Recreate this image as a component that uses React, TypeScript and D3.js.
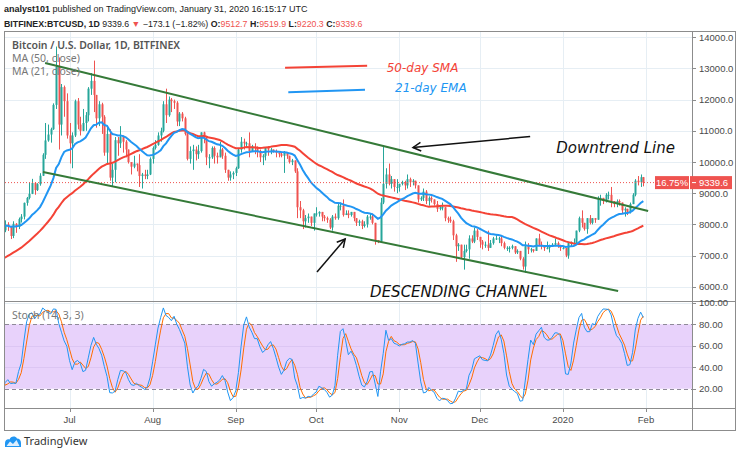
import React, { useEffect } from "react";
import * as d3 from "d3";

const DAY = 86400000;
const START_DATE = Date.UTC(2019, 4, 18);
const JUL1 = Date.UTC(2019, 6, 1);

// closes Apr 18 – May 17 2019 (warm-up for the moving averages)
const warmupCloses = [5290, 5280, 5330, 5290, 5380, 5530, 5430, 5190, 5280, 5270, 5250, 5200, 5340,
  5390, 5510, 5760, 5840, 5770, 5730, 5860, 5970, 6170, 6380, 7230, 6990, 7820, 7990, 8190, 7880, 7360];

// daily OHLC from May 18 2019 to Jan 31 2020
const opens = [
  7360, 7260, 8170, 7960, 7950, 7630, 7890, 7990, 8070, 8740, 8810, 8720, 8660, 8280,
  8560, 8550, 8740, 8120, 7680, 7800, 7810, 8000, 7930, 7630, 8020, 7920, 8170, 8250, 8690, 8850, 8980, 9330, 9100, 9290, 9560, 10230, 10690, 10880, 11050, 11830, 13050, 11200, 12400, 11950,
  10850, 10600, 10850, 11950, 11200, 11000, 11250, 11500, 12350, 12600, 12150, 11400, 11850, 11450, 10300, 10900, 9500, 9750, 10700, 10600, 10800, 10650, 10400, 10000, 9850, 9950, 9900, 9550, 9600, 9550, 9600,
  10100, 10450, 10550, 10850, 11000, 11850, 11500, 12000, 11950, 11900, 11300, 11550, 11400, 10900, 10100, 10350, 10400, 10250, 10350, 10950, 10800, 10150, 10150, 10450, 10200, 10150, 10400, 10200, 9750, 9500, 9600,
  9650, 9800, 10400, 10650, 10600, 10600, 10350, 10500, 10450, 10350, 10150, 10200, 10450, 10400, 10400, 10350, 10300, 10250, 10200, 10300, 10200, 10000, 10050, 9700, 8550, 8450, 8100, 8200, 8250, 8050,
  8350, 8350, 8400, 8250, 8200, 8150, 7900, 8250, 8200, 8600, 8600, 8300, 8350, 8300, 8400, 8200, 8050, 8100, 7950, 8000, 8250, 8250, 8050, 7500, 7450, 8700, 9300, 9600, 9300, 9450, 9200,
  9200, 9300, 9350, 9250, 9450, 9350, 9400, 9250, 8800, 8850, 9050, 8750, 8850, 8800, 8650, 8500, 8550, 8550, 8200, 8150, 8100, 7650, 7300, 7350, 6950, 7150, 7200, 7550, 7450, 7800,
  7600, 7450, 7350, 7350, 7250, 7400, 7550, 7550, 7550, 7400, 7250, 7250, 7250, 7300, 7100, 7150, 6900, 6650, 7300, 7200, 7200, 7150, 7550, 7350, 7300, 7250, 7250, 7300, 7350, 7400, 7300,
  7250, 7250, 7000, 7400, 7400, 7400, 7800, 8200, 8050, 7850, 8200, 8050, 8200, 8150, 8850, 8850, 8750, 8950, 8950, 8750, 8650, 8750, 8700, 8450, 8500, 8400, 8650, 8950, 9400, 9350, 9512.7,
];
const highs = [
  7450, 8260, 8170, 8100, 8040, 7950, 8150, 8150, 8800, 8930, 8820, 8730, 9080, 8600,
  8630, 8820, 8750, 8120, 7930, 7880, 8130, 8070, 7950, 8100, 8040, 8220, 8330, 8700, 8880, 9350, 9460, 9350, 9320, 9640, 10280, 11250, 11200, 11100, 11880, 13700, 13350, 12500, 12450, 12200,
  11250, 10950, 12000, 12050, 11450, 11700, 11600, 12400, 12850, 13250, 12150, 11950, 11900, 11500, 11100, 11050, 9950, 10800, 10800, 11150, 10850, 10700, 10400, 10000, 10200, 9950, 10250, 9650, 9750, 9750, 10150,
  10500, 10700, 10950, 11100, 11950, 12350, 12100, 12050, 12000, 11950, 11600, 11600, 11450, 10950, 10500, 10550, 10500, 10550, 10950, 10970, 10800, 10250, 10500, 10500, 10300, 10650, 10450, 10300, 9750, 9700, 9700,
  9850, 10450, 10800, 10750, 10650, 10950, 10550, 10600, 10500, 10400, 10250, 10450, 10500, 10450, 10400, 10400, 10300, 10300, 10350, 10300, 10200, 10100, 10050, 9800, 8750, 8500, 8300, 8350, 8250, 8350,
  8550, 8420, 8400, 8300, 8250, 8200, 8300, 8350, 8700, 8700, 8800, 8450, 8450, 8400, 8400, 8200, 8150, 8150, 8100, 8300, 8350, 8350, 8050, 7500, 8850, 10500, 9800, 9950, 9550, 9450, 9450,
  9300, 9400, 9400, 9600, 9500, 9450, 9400, 9250, 8900, 9150, 9100, 8900, 8900, 8800, 8750, 8600, 8700, 8550, 8250, 8250, 8150, 7700, 7400, 7350, 7350, 7350, 7650, 7650, 7900, 7850,
  7600, 7500, 7450, 7800, 7500, 7600, 7650, 7600, 7650, 7450, 7300, 7300, 7350, 7300, 7200, 7150, 6950, 7450, 7400, 7250, 7200, 7550, 7700, 7450, 7300, 7450, 7350, 7400, 7550, 7450, 7350,
  7300, 7250, 7450, 7450, 7550, 7800, 8250, 8450, 8050, 8200, 8300, 8200, 8200, 8900, 8950, 8850, 9000, 9050, 9200, 8750, 8800, 8800, 8700, 8550, 8500, 8700, 9000, 9450, 9550, 9600, 9519.9,
];
const lows = [
  7150, 7250, 7590, 7800, 7540, 7500, 7820, 7940, 8000, 8650, 8550, 8450, 8040, 8040,
  8460, 8540, 8060, 7450, 7600, 7540, 7750, 7790, 7530, 7560, 7730, 7850, 8060, 8160, 8600, 8800, 8970, 8950, 9070, 9240, 9550, 10100, 10650, 10620, 11030, 11700, 10400, 10850, 11450, 10750,
  9950, 9800, 10800, 11050, 10850, 10990, 11000, 11300, 12150, 11600, 11100, 11150, 10900, 10200, 9950, 9400, 9200, 9350, 10200, 10450, 10300, 10150, 9950, 9600, 9800, 9700, 9200, 9150, 9450, 9450, 9580,
  9950, 10400, 10520, 10650, 10950, 11250, 11450, 11600, 11700, 11150, 11150, 11300, 10850, 10050, 9950, 9750, 10050, 10100, 10300, 10600, 9900, 9800, 10100, 9950, 9950, 10150, 10100, 9650, 9400, 9400, 9450,
  9550, 9780, 10300, 10400, 10450, 10150, 10350, 10250, 10150, 10000, 9900, 10050, 10200, 10250, 10300, 10150, 10150, 10150, 9650, 10100, 9950, 9900, 9650, 8200, 8200, 7850, 7900, 8050, 7950, 7800,
  8250, 8250, 8100, 8100, 8050, 7850, 7800, 8150, 8150, 8450, 8250, 8300, 8200, 8250, 8100, 7950, 7950, 7850, 7900, 7900, 8150, 8000, 7350, 7400, 7450, 8650, 9150, 9250, 9150, 9050, 9000,
  9050, 9250, 9100, 9150, 9200, 9250, 9150, 8700, 8750, 8750, 8650, 8600, 8700, 8600, 8400, 8450, 8450, 8100, 8050, 8050, 7500, 6800, 7150, 6900, 6550, 7100, 6900, 7400, 7400, 7500,
  7250, 7200, 7250, 7150, 7250, 7350, 7500, 7400, 7300, 7200, 7150, 7100, 7200, 7050, 7050, 6850, 6550, 6450, 7050, 7100, 7100, 7150, 7300, 7200, 7150, 7200, 7100, 7300, 7300, 7250, 7150,
  7200, 6950, 6900, 7300, 7350, 7400, 7750, 7900, 7800, 7700, 8000, 8000, 8050, 8150, 8600, 8650, 8700, 8800, 8550, 8550, 8550, 8600, 8350, 8250, 8300, 8350, 8650, 8900, 9250, 9200, 9220.3,
];
const closes = [
  7260, 8170, 7960, 7950, 7630, 7890, 7990, 8070, 8740, 8810, 8720, 8660, 8280, 8560,
  8550, 8740, 8120, 7680, 7800, 7810, 8000, 7930, 7630, 8020, 7920, 8170, 8250, 8690, 8850, 8980, 9330, 9100, 9290, 9560, 10230, 10690, 10880, 11050, 11830, 13050, 11200, 12400, 11950, 10850,
  10600, 10850, 11950, 11200, 11000, 11250, 11500, 12350, 12600, 12150, 11400, 11850, 11450, 10300, 10900, 9500, 9750, 10700, 10600, 10800, 10650, 10400, 10000, 9850, 9950, 9900, 9550, 9600, 9550, 9600, 10100,
  10450, 10550, 10850, 11000, 11850, 11500, 12000, 11950, 11900, 11300, 11550, 11400, 10900, 10100, 10350, 10400, 10250, 10350, 10950, 10800, 10150, 10150, 10450, 10200, 10150, 10400, 10200, 9750, 9500, 9600, 9650,
  9800, 10400, 10650, 10600, 10600, 10350, 10500, 10450, 10350, 10150, 10200, 10450, 10400, 10400, 10350, 10300, 10250, 10200, 10300, 10200, 10000, 10050, 9700, 8550, 8450, 8100, 8200, 8250, 8050, 8350,
  8350, 8400, 8250, 8200, 8150, 7900, 8250, 8200, 8600, 8600, 8300, 8350, 8300, 8400, 8200, 8050, 8100, 7950, 8000, 8250, 8250, 8050, 7500, 7450, 8700, 9300, 9600, 9300, 9450, 9200, 9200,
  9300, 9350, 9250, 9450, 9350, 9400, 9250, 8800, 8850, 9050, 8750, 8850, 8800, 8650, 8500, 8550, 8550, 8200, 8150, 8100, 7650, 7300, 7350, 6950, 7150, 7200, 7550, 7450, 7800, 7600,
  7450, 7350, 7350, 7250, 7400, 7550, 7550, 7550, 7400, 7250, 7250, 7250, 7300, 7100, 7150, 6900, 6650, 7300, 7200, 7200, 7150, 7550, 7350, 7300, 7250, 7250, 7300, 7350, 7400, 7300, 7250,
  7250, 7000, 7400, 7400, 7400, 7800, 8200, 8050, 7850, 8200, 8050, 8200, 8150, 8850, 8850, 8750, 8950, 8950, 8750, 8650, 8750, 8700, 8450, 8500, 8400, 8650, 8950, 9400, 9350, 9512.7, 9339.6,
];

const priceTicks = [6000, 7000, 8000, 9000, 10000, 11000, 12000, 13000, 14000];
const stochTicks = [20, 40, 60, 80, 100];
const monthTickDates = [
  Date.UTC(2019, 6, 1), Date.UTC(2019, 7, 1), Date.UTC(2019, 8, 1), Date.UTC(2019, 9, 1),
  Date.UTC(2019, 10, 1), Date.UTC(2019, 11, 1), Date.UTC(2020, 0, 1), Date.UTC(2020, 1, 1),
];
const monthTickLabels = ["Jul", "Aug", "Sep", "Oct", "Nov", "Dec", "2020", "Feb"];

// drawn annotations: [days after Jul 1 2019, price]
const channelUpper = [[-9.1, 13170], [215.8, 8430]];
const channelLower = [[-9.9, 9680], [204.6, 5865]];
const arrowTop = [[171.8, 10817], [128.1, 10465]];
const arrowBottom = [[92.3, 6474], [102.8, 7532]];
const smaKeyLine = [[80.4, 13022], [111.0, 13087]];
const emaKeyLine = [[81.6, 12234], [110.2, 12317]];

const LEFT = 5, RIGHT = 692;
const MAIN_TOP = 31, MAIN_BOTTOM = 301;
const STOCH_TOP = 301, STOCH_BOTTOM = 408;
const AXIS_BOTTOM = 430;

const UP = "#26a69a", DOWN = "#ef5350";
const GRID = "#e6eef4";
const FRAME = "#8c8c8c";

function sma(arr: (number | null)[], n: number) {
  return arr.map((_, i) => {
    if (i < n - 1) return null;
    const s = arr.slice(i - n + 1, i + 1);
    if (s.some((v) => v == null)) return null;
    return d3.mean(s as number[]) as number;
  });
}
function ema(arr: number[], n: number) {
  const k = 2 / (n + 1);
  const out: (number | null)[] = [];
  let prev = 0;
  arr.forEach((v, i) => {
    if (i < n - 1) out.push(null);
    else if (i === n - 1) { prev = d3.mean(arr.slice(0, n)) as number; out.push(prev); }
    else { prev = v * k + prev * (1 - k); out.push(prev); }
  });
  return out;
}

export default function App() {
  useEffect(() => { document.body.style.margin = "0"; }, []);

  const x = d3.scaleUtc().domain([new Date(JUL1), new Date(Date.UTC(2020, 1, 1))]).range([69.5, 646]);
  const y = d3.scaleLinear().domain([6000, 14000]).range([286.8, 37.2]);
  const ys = d3.scaleLinear().domain([20, 80]).range([388.7, 324.3]);

  const dates = closes.map((_, i) => new Date(START_DATE + i * DAY));
  const all = warmupCloses.concat(closes);
  const sma50 = sma(all, 50).slice(warmupCloses.length);
  const ema21 = ema(all, 21).slice(warmupCloses.length);

  const rawK = closes.map((c, i) => {
    if (i < 13) return null;
    const hh = d3.max(highs.slice(i - 13, i + 1)) as number;
    const ll = d3.min(lows.slice(i - 13, i + 1)) as number;
    return (100 * (c - ll)) / (hh - ll);
  });
  const kLine = sma(rawK, 3);
  const dLine = sma(kLine, 3);

  const px = (p: number[]) => x(new Date(JUL1 + p[0] * DAY));
  const py = (p: number[]) => y(p[1]);

  const mainLine = d3.line<number | null>()
    .defined((d) => d != null)
    .x((_, i) => x(dates[i]))
    .y((d) => y(d as number));
  const stochLine = d3.line<number | null>()
    .defined((d) => d != null)
    .x((_, i) => x(dates[i]))
    .y((d) => ys(d as number));

  const last = closes[closes.length - 1];
  const lastY = y(last);

  const arrowHead = (seg: number[][]) => {
    const x1 = px(seg[0]), y1 = py(seg[0]), x2 = px(seg[1]), y2 = py(seg[1]);
    const a = Math.atan2(y1 - y2, x1 - x2);
    const L = 9, s = 0.5;
    return `M${x2 + L * Math.cos(a + s)},${y2 + L * Math.sin(a + s)}L${x2},${y2}L${x2 + L * Math.cos(a - s)},${y2 + L * Math.sin(a - s)}`;
  };

  const uiFont = "'Noto Sans', 'Open Sans', sans-serif";
  const headFont = "'Liberation Sans', Arial, sans-serif";
  const axisFont = "'Liberation Sans', Arial, sans-serif";
  const noteFont = "'DejaVu Sans', Verdana, sans-serif";

  return (
    <svg width={740} height={456} style={{ position: "absolute", left: 0, top: 0, background: "#fff" }}>
      <defs>
        <clipPath id="mainClip"><rect x={LEFT} y={MAIN_TOP} width={RIGHT - LEFT} height={MAIN_BOTTOM - MAIN_TOP} /></clipPath>
        <clipPath id="stochClip"><rect x={LEFT} y={STOCH_TOP} width={RIGHT - LEFT} height={STOCH_BOTTOM - STOCH_TOP} /></clipPath>
      </defs>
      <rect x={0} y={0} width={740} height={456} fill="#fff" />

      {/* header */}
      <text x={4} y={12} fontFamily={headFont} fontSize={9} fill="#222">
        <tspan fontWeight="bold">analyst101</tspan>
        <tspan>{" published on TradingView.com, January 31, 2020 16:15:17 UTC"}</tspan>
      </text>
      <text x={4} y={27} fontFamily={headFont} fontSize={8.8} fill="#222">
        <tspan fontWeight="bold">BITFINEX:BTCUSD, 1D</tspan>
        <tspan>{" 9339.6 "}</tspan>
        <tspan fill={DOWN}>▼</tspan>
        <tspan>{" −173.1 (−1.82%) "}</tspan>
        <tspan fontWeight="bold">O:</tspan>
        <tspan fill={DOWN}>{"9512.7 "}</tspan>
        <tspan fontWeight="bold">H:</tspan>
        <tspan fill={DOWN}>{"9519.9 "}</tspan>
        <tspan fontWeight="bold">L:</tspan>
        <tspan fill={DOWN}>{"9220.3 "}</tspan>
        <tspan fontWeight="bold">C:</tspan>
        <tspan fill={DOWN}>9339.6</tspan>
      </text>

      {/* grid */}
      {priceTicks.map((t) => (
        <line key={"hg" + t} x1={LEFT} x2={RIGHT} y1={Math.round(y(t)) + 0.5} y2={Math.round(y(t)) + 0.5} stroke={GRID} />
      ))}
      {monthTickDates.map((d) => (
        <line key={"vg" + d} x1={Math.round(x(new Date(d))) + 0.5} x2={Math.round(x(new Date(d))) + 0.5} y1={MAIN_TOP} y2={STOCH_BOTTOM} stroke={GRID} />
      ))}

      {/* stoch band */}
      <rect x={LEFT} y={ys(80)} width={RIGHT - LEFT} height={ys(20) - ys(80)} fill="#e8d2fb" />
      {[40, 60, 100].map((t) => (
        <line key={"sg" + t} x1={LEFT} x2={RIGHT} y1={Math.round(ys(t)) + 0.5} y2={Math.round(ys(t)) + 0.5} stroke={t === 100 ? GRID : "#dcc6f3"} />
      ))}
      {[20, 80].map((t) => (
        <line key={"sd" + t} x1={LEFT} x2={RIGHT} y1={Math.round(ys(t)) + 0.5} y2={Math.round(ys(t)) + 0.5} stroke="#8f8a99" strokeDasharray="4,3" />
      ))}

      {/* main pane */}
      <g clipPath="url(#mainClip)">
        {closes.map((c, i) => {
          const o = opens[i];
          const cx = Math.round(x(dates[i])) + 0.5;
          const col = c >= o ? UP : DOWN;
          const top = y(Math.max(o, c));
          const h = Math.max(1, Math.abs(y(o) - y(c)));
          return (
            <g key={"c" + i}>
              <line x1={cx} x2={cx} y1={y(highs[i])} y2={y(lows[i])} stroke={col} strokeWidth={1} />
              <rect x={cx - 1} y={top} width={2} height={h} fill={col} />
            </g>
          );
        })}
        <path d={mainLine(sma50) || ""} fill="none" stroke="#f44336" strokeWidth={2} />
        <path d={mainLine(ema21) || ""} fill="none" stroke="#2196f3" strokeWidth={2} />
        <line x1={LEFT} x2={655} y1={lastY} y2={lastY} stroke={DOWN} strokeWidth={1} strokeDasharray="1,2" />

        {/* channel */}
        <line x1={px(channelUpper[0])} y1={py(channelUpper[0])} x2={px(channelUpper[1])} y2={py(channelUpper[1])} stroke="#357a38" strokeWidth={2} />
        <line x1={px(channelLower[0])} y1={py(channelLower[0])} x2={px(channelLower[1])} y2={py(channelLower[1])} stroke="#357a38" strokeWidth={2} />

        {/* arrows */}
        {[arrowTop, arrowBottom].map((seg, k) => (
          <g key={"ar" + k} stroke="#111" strokeWidth={1.5} fill="none">
            <line x1={px(seg[0])} y1={py(seg[0])} x2={px(seg[1])} y2={py(seg[1])} />
            <path d={arrowHead(seg)} />
          </g>
        ))}

        {/* key lines and notes */}
        <line x1={px(smaKeyLine[0])} y1={py(smaKeyLine[0])} x2={px(smaKeyLine[1])} y2={py(smaKeyLine[1])} stroke="#f44336" strokeWidth={2} />
        <line x1={px(emaKeyLine[0])} y1={py(emaKeyLine[0])} x2={px(emaKeyLine[1])} y2={py(emaKeyLine[1])} stroke="#2196f3" strokeWidth={2} />
        <text x={px([118.3, 0])} y={y(12894)} fontFamily={noteFont} fontStyle="italic" fontSize={12} fill="#f44336">50-day SMA</text>
        <text x={px([121.4, 0])} y={y(12244)} fontFamily={noteFont} fontStyle="italic" fontSize={12} fill="#2196f3">21-day EMA</text>
        <text x={px([181.5, 0])} y={y(10279)} fontFamily={noteFont} fontStyle="italic" fontSize={15} fill="#111">Downtrend Line</text>
        <text x={px([112.1, 0])} y={y(5689)} fontFamily={noteFont} fontStyle="italic" fontSize={15} fill="#111">DESCENDING CHANNEL</text>
      </g>

      {/* stoch */}
      <g clipPath="url(#stochClip)">
        <path d={stochLine(dLine) || ""} fill="none" stroke="#ff6d00" strokeWidth={1} />
        <path d={stochLine(kLine) || ""} fill="none" stroke="#2196f3" strokeWidth={1} />
      </g>

      {/* legends */}
      <text x={12} y={49} fontFamily={uiFont} fontSize={10.5} fontWeight={600} fill="#555">Bitcoin / U.S. Dollar, 1D, BITFINEX</text>
      <text x={12} y={62} fontFamily={uiFont} fontSize={10.5} fill="#777">MA (50, close)</text>
      <text x={12} y={75} fontFamily={uiFont} fontSize={10.5} fill="#777">MA (21, close)</text>
      <text x={12} y={319} fontFamily={uiFont} fontSize={10.5} fill="#777">Stoch (14, 3, 3)</text>

      {/* frame */}
      <rect x={4.5} y={31.5} width={731} height={AXIS_BOTTOM - 31} fill="none" stroke={FRAME} />
      <line x1={RIGHT + 0.5} x2={RIGHT + 0.5} y1={31} y2={AXIS_BOTTOM} stroke={FRAME} />
      <line x1={4.5} x2={735.5} y1={STOCH_TOP + 0.5} y2={STOCH_TOP + 0.5} stroke={FRAME} />
      <line x1={4.5} x2={735.5} y1={STOCH_BOTTOM + 0.5} y2={STOCH_BOTTOM + 0.5} stroke={FRAME} />

      {/* price axis */}
      {priceTicks.map((t) => (
        <g key={"pt" + t}>
          <line x1={RIGHT} x2={RIGHT + 4} y1={Math.round(y(t)) + 0.5} y2={Math.round(y(t)) + 0.5} stroke={FRAME} />
          <text x={699} y={y(t) + 3.5} fontFamily={axisFont} fontSize={9.5} fill="#4a4a4a">{t.toFixed(1)}</text>
        </g>
      ))}
      {stochTicks.map((t) => (
        <g key={"st" + t}>
          <line x1={RIGHT} x2={RIGHT + 4} y1={Math.round(ys(t)) + 0.5} y2={Math.round(ys(t)) + 0.5} stroke={FRAME} />
          <text x={699} y={ys(t) + 3.5} fontFamily={axisFont} fontSize={9.5} fill="#4a4a4a">{t.toFixed(2)}</text>
        </g>
      ))}
      {/* last price labels */}
      <rect x={655} y={lastY - 6.5} width={34} height={13} fill={DOWN} />
      <text x={672} y={lastY + 3.5} textAnchor="middle" fontFamily={axisFont} fontSize={9.5} fill="#fff">16.75%</text>
      <rect x={690} y={lastY - 6.5} width={42} height={13} fill={DOWN} />
      <line x1={692} x2={696} y1={lastY} y2={lastY} stroke="#fff" />
      <text x={699} y={lastY + 3.5} fontFamily={axisFont} fontSize={9.5} fill="#fff">{last.toFixed(1)}</text>

      {/* time axis */}
      {monthTickDates.map((d, i) => (
        <g key={"mt" + d}>
          <line x1={Math.round(x(new Date(d))) + 0.5} x2={Math.round(x(new Date(d))) + 0.5} y1={STOCH_BOTTOM} y2={STOCH_BOTTOM + 4} stroke={FRAME} />
          <text x={x(new Date(d))} y={423} textAnchor="middle" fontFamily={axisFont} fontSize={9.5} fill="#4a4a4a">{monthTickLabels[i]}</text>
        </g>
      ))}

      {/* TradingView logo */}
      <path d="M5,447 L5,443 C5,440 7.5,438.5 9.5,439.5 C10.5,436 15.5,435.5 17,438.5 C19.5,438.5 21,440.5 21,443 L21,447 Z" fill="#2196f3" />
      <path d="M6.5,446 L10,441.5 L13,444 L16.5,440 L19.5,446 Z" fill="#fff" opacity={0.85} />
      <text x={24} y={445} fontFamily={uiFont} fontSize={11} fill="#333">TradingView</text>
    </svg>
  );
}
